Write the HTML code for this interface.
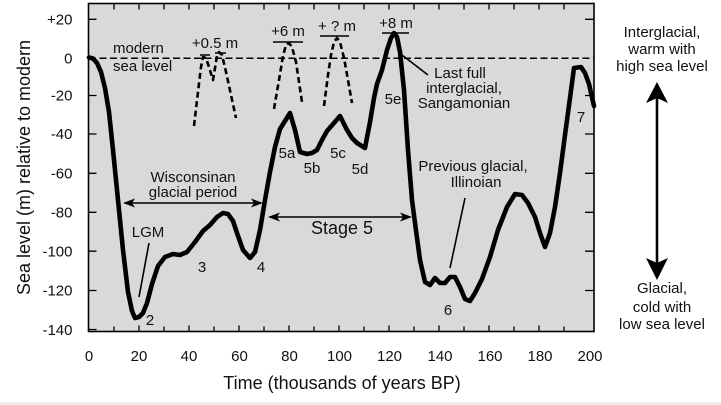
<!DOCTYPE html>
<html><head><meta charset="utf-8"><style>
html,body{margin:0;padding:0;background:#fff;}
svg{display:block;}
text{font-family:"Liberation Sans",Arial,sans-serif;fill:#111;}
</style></head><body>
<svg width="721" height="405" viewBox="0 0 721 405" xmlns="http://www.w3.org/2000/svg">
<rect x="0" y="0" width="721" height="405" fill="#fff"/>
<rect x="0" y="402" width="721" height="3" fill="#eeeeee"/>
<rect x="88.5" y="3.5" width="505.5" height="328" fill="#d9d9d9" stroke="#000" stroke-width="1.6"/>
<g stroke="#000" stroke-width="1.3">
<path d="M88.5 19.3h8M88.5 95.5h8M88.5 134h8M88.5 173.3h8M88.5 212.3h8M88.5 251.2h8M88.5 290.5h8M88.5 329.5h8"/>
<path d="M594 19.3h-9M594 95.5h-9M594 134h-9M594 173.3h-9M594 212.3h-9M594 251.2h-9M594 290.5h-9"/>
<path d="M114 3.5v6M139 3.5v6M164 3.5v6M189 3.5v6M214 3.5v6M239 3.5v6M264 3.5v6M289 3.5v6M314 3.5v6M339 3.5v6M364 3.5v6M389 3.5v6M414 3.5v6M439 3.5v6M464 3.5v6M489 3.5v6M514 3.5v6M539 3.5v6M564 3.5v6"/>
<path d="M114 331.5v-5M139 331.5v-6M164 331.5v-5M189 331.5v-6M214 331.5v-5M239 331.5v-6M264 331.5v-5M289 331.5v-6M314 331.5v-5M339 331.5v-6M364 331.5v-5M389 331.5v-6M414 331.5v-5M439 331.5v-6M464 331.5v-5M489 331.5v-6M514 331.5v-5M539 331.5v-6M564 331.5v-5"/>
</g>
<g font-size="15" text-anchor="end">
<text x="72.5" y="24.5">+20</text>
<text x="72.5" y="63.5">0</text>
<text x="72.5" y="100.5">-20</text>
<text x="72.5" y="139">-40</text>
<text x="72.5" y="178.5">-60</text>
<text x="72.5" y="217.5">-80</text>
<text x="72.5" y="256.5">-100</text>
<text x="72.5" y="295.5">-120</text>
<text x="72.5" y="335">-140</text>
</g>
<g font-size="15" text-anchor="middle">
<text x="89" y="361">0</text>
<text x="139" y="361">20</text>
<text x="189" y="361">40</text>
<text x="239.5" y="361">60</text>
<text x="289.5" y="361">80</text>
<text x="339.5" y="361">100</text>
<text x="389.5" y="361">120</text>
<text x="440" y="361">140</text>
<text x="490" y="361">160</text>
<text x="540" y="361">180</text>
<text x="590" y="361">200</text>
</g>
<text x="342" y="389" font-size="18" text-anchor="middle">Time (thousands of years BP)</text>
<text transform="translate(30,167.5) rotate(-90)" font-size="18" text-anchor="middle">Sea level (m) relative to modern</text>
<line x1="89" y1="58.3" x2="594" y2="58.3" stroke="#000" stroke-width="1.5" stroke-dasharray="7 3.5"/>
<g fill="none" stroke="#000" stroke-width="2.6" stroke-dasharray="6 3.5" stroke-linejoin="round">
<polyline points="194,126 198,92 201,67 203,57 206,58 209,67 213,80 215,68 217,56 219,52 222,55 226,72 231,95 236,118"/>
<polyline points="274,109 279,80 283,56 286,45 289,43 292,47 296,62 302,102"/>
<polyline points="324,106 328,75 331,55 334,42 337,38 340,42 344,58 348,80 352,103"/>
</g>
<g stroke="#000" stroke-width="1.6">
<path d="M200 55h10M215 53h11M273 42h30M320 36h29M382 33h27"/>
<path d="M149 243L139 297M465 198L450 268M402 55L428 75"/>
<path d="M125 203H261M270 217H410"/>
</g>
<g fill="#000">
<polygon points="123,203 135,198.5 132,203 135,207.5"/>
<polygon points="263,203 251,198.5 254,203 251,207.5"/>
<polygon points="268,217 280,212.5 277,217 280,221.5"/>
<polygon points="412,217 400,212.5 403,217 400,221.5"/>
</g>
<line x1="657" y1="96" x2="657" y2="266" stroke="#000" stroke-width="2.6"/>
<polygon points="657,82 646,103 657,98 668,103" fill="#000"/>
<polygon points="657,280 646,258 657,263 668,258" fill="#000"/>
<polyline fill="none" stroke="#000" stroke-width="4.6" stroke-linejoin="round" stroke-linecap="round" points="89,57.5 93,58.5 97,63 101,72 105,88 109,112 113,150 118,200 123,250 128,292 132,311 135,318 139,317 143,313 147,303 152,284 158,266 165,257 173,254 180,255 187,252 195,242 203,231 210,225 217,217 223,213 228,214 233,221 237,233 243,250 250,258 255,252 260,230 265,200 270,172 275,147 280,129 285,121 290,113 295,130 300,152 307,154 312,153 317,150 322,140 327,131 334,123 340,116 347,130 352,138 357,143 365,148 370,122 374,98 377,84 382,70 387,50 391,38 394,33 397,37 400,52 404,90 408,150 412,200 415,223 420,260 425,282 430,285 435,278 440,283 445,283 450,277 455,277 460,287 465,299 470,301 475,293 482,279 490,257 498,230 507,207 515,194 522,195 528,203 535,217 540,233 545,247 550,233 555,207 560,173 565,135 570,98 574,68 581,67 585,73 589,84 594,106"/>
<g font-size="15">
<text x="113" y="53">modern</text>
<text x="113" y="71">sea level</text>
</g>
<g font-size="15" text-anchor="middle">
<text x="215" y="48">+0.5 m</text>
<text x="288" y="36">+6 m</text>
<text x="337" y="31">+ ? m</text>
<text x="396" y="28">+8 m</text>
<text x="460" y="78">Last full</text>
<text x="464" y="93">interglacial,</text>
<text x="464" y="108">Sangamonian</text>
<text x="393" y="104">5e</text>
<text x="287" y="158">5a</text>
<text x="312" y="173">5b</text>
<text x="338" y="158">5c</text>
<text x="360" y="174">5d</text>
<text x="581" y="122">7</text>
<text x="662" y="37">Interglacial,</text>
<text x="662" y="54">warm with</text>
<text x="662" y="71">high sea level</text>
<text x="662" y="293">Glacial,</text>
<text x="662" y="312">cold with</text>
<text x="662" y="329">low sea level</text>
<text x="473" y="171">Previous glacial,</text>
<text x="476" y="187">Illinoian</text>
<text x="448" y="315">6</text>
<text x="193" y="182">Wisconsinan</text>
<text x="193" y="197">glacial period</text>
<text x="148" y="237">LGM</text>
<text x="150" y="325">2</text>
<text x="202" y="272">3</text>
<text x="261" y="272">4</text>
</g>
<text x="342" y="234" font-size="18" text-anchor="middle">Stage 5</text>
</svg>
</body></html>
